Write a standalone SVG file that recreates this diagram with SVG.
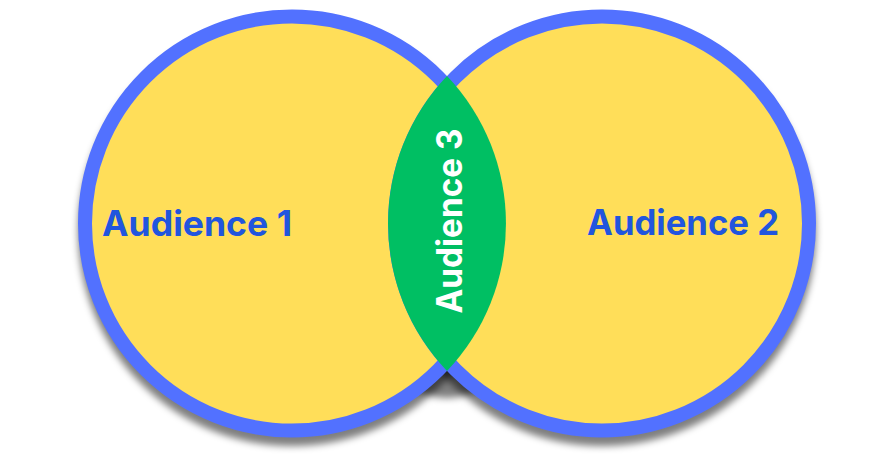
<svg xmlns="http://www.w3.org/2000/svg" width="893" height="470" viewBox="0 0 893 470">
  <style>
    .circle { fill: #FFDE59; stroke: #5271FF; stroke-width: 14; }
    .lens { fill: #00BF63; }
    .label { font-family: Inter, "Liberation Sans", sans-serif; font-weight: 700; font-size: 35px; }
    .blue { fill: #2155DE; }
    .white { fill: #FFFFFF; }
  </style>
  <defs>
    <filter id="shadow" x="-10%" y="-10%" width="120%" height="130%">
      <feGaussianBlur stdDeviation="3.5"/>
    </filter>
  </defs>
  <g id="shadow-layer" filter="url(#shadow)" fill="#000" fill-opacity="0.5">
    <circle cx="292" cy="232" r="214"/>
    <circle cx="602" cy="232" r="214"/>
    <ellipse cx="447" cy="376" rx="40" ry="22"/>
  </g>
  <g id="audience-1">
    <circle class="circle" cx="292" cy="223.5" r="207"/>
  </g>
  <g id="audience-2">
    <circle class="circle" cx="602" cy="223.5" r="207"/>
  </g>
  <g id="audience-3">
    <path class="lens" d="M447 76 A214 214 0 0 1 447 371 A214 214 0 0 1 447 76 Z"/>
  </g>
  <g id="labels">
    <text class="label blue" x="102" y="236" textLength="190" lengthAdjust="spacingAndGlyphs">Audience 1</text>
    <text class="label blue" x="587" y="235" textLength="192" lengthAdjust="spacingAndGlyphs">Audience 2</text>
    <text class="label white" text-anchor="middle" textLength="185" lengthAdjust="spacingAndGlyphs" transform="translate(462,221) rotate(-90)">Audience 3</text>
  </g>
  <g id="connectors"></g>
</svg>
